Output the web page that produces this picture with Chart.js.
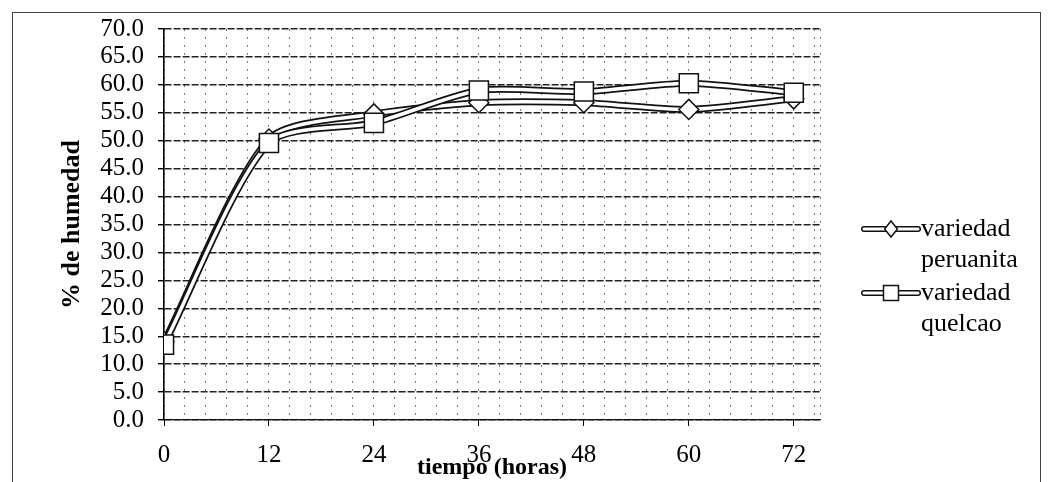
<!DOCTYPE html>
<html>
<head>
<meta charset="utf-8">
<script src="https://cdn.jsdelivr.net/npm/chart.js@4.4.1/dist/chart.umd.min.js"></script>
<style>
  html, body { margin: 0; padding: 0; background: #fff; }
  #wrap { width: 1048px; height: 482px; }
</style>
</head>
<body>
<div id="wrap"><canvas id="c" width="1048" height="482"></canvas></div>
<script>
// Humedad (%) medida cada 12 horas para dos variedades
const horas = [0, 12, 24, 36, 48, 60, 72];
const peruanita = [14.0, 50.3, 54.8, 56.8, 56.8, 55.6, 57.5];
const quelcao = [13.5, 49.6, 53.2, 59.0, 58.8, 60.3, 58.6];
const nombresSeries = [['variedad', 'peruanita'], ['variedad', 'quelcao']];
const marcadores = ['rectRot', 'rect'];
const tituloY = '% de humedad';
const tituloX = 'tiempo (horas)';

const X_MAX = 75;          // extremo derecho del eje de tiempo
const X_PASO_GRILLA = 2.4; // líneas secundarias (12 / 5)
const X_PASO_ETIQUETA = 12;
const SUAVIZADO = 0.25;

const FUENTE = '"Liberation Serif", "Times New Roman", serif';
Chart.defaults.font.family = FUENTE;
Chart.defaults.color = '#000';

const esMayor = v => Math.abs(Math.round(v * 10) % (X_PASO_ETIQUETA * 10)) === 0 && v <= 72;

function puntos(ys) {
  return horas.map((h, i) => ({ x: h, y: ys[i] }));
}

// Cada serie es una línea "hueca": trazo negro grueso debajo y trazo blanco fino encima
function contorno(ys, order) {
  return {
    data: puntos(ys), order,
    borderColor: '#111', borderWidth: 7,
    borderCapStyle: 'round', borderJoinStyle: 'round',
    pointRadius: 0, tension: SUAVIZADO, fill: false
  };
}
function interior(label, ys, order, estilo, radio) {
  return {
    label, data: puntos(ys), order,
    borderColor: '#fff', borderWidth: 3.5,
    borderCapStyle: 'round', borderJoinStyle: 'round',
    pointStyle: estilo, pointRadius: radio,
    pointBackgroundColor: '#fff', pointBorderColor: '#111', pointBorderWidth: 1.5,
    tension: SUAVIZADO, fill: false
  };
}

const marco = {
  id: 'marco',
  beforeDraw(chart) {
    const ctx = chart.ctx;
    ctx.save();
    ctx.fillStyle = '#fff';
    ctx.fillRect(0, 0, chart.width, chart.height);
    ctx.strokeStyle = '#444';
    ctx.lineWidth = 1;
    ctx.strokeRect(12.5, 12.5, 1028, 490);
    ctx.restore();
  }
};

function dibujarMarcador(ctx, estilo, x, y) {
  ctx.beginPath();
  if (estilo === 'rectRot') {
    const r = 8;
    ctx.moveTo(x, y - r); ctx.lineTo(x + r * 0.8, y); ctx.lineTo(x, y + r); ctx.lineTo(x - r * 0.8, y);
    ctx.closePath();
  } else {
    const s = 7.5;
    ctx.rect(x - s, y - s, 2 * s, 2 * s);
  }
  ctx.fillStyle = '#fff';
  ctx.fill();
  ctx.lineWidth = 1.5;
  ctx.strokeStyle = '#111';
  ctx.stroke();
}

const leyenda = {
  id: 'leyenda',
  afterDraw(chart) {
    const ctx = chart.ctx;
    const x0 = 864, x1 = 918, xt = 921;
    const filas = [229, 293];
    const interlinea = 31;
    ctx.save();
    nombresSeries.forEach((lineas, i) => {
      const y = filas[i];
      ctx.lineCap = 'round';
      ctx.beginPath(); ctx.moveTo(x0, y); ctx.lineTo(x1, y);
      ctx.strokeStyle = '#111'; ctx.lineWidth = 6; ctx.stroke();
      ctx.beginPath(); ctx.moveTo(x0, y); ctx.lineTo(x1, y);
      ctx.strokeStyle = '#fff'; ctx.lineWidth = 3; ctx.stroke();
      dibujarMarcador(ctx, marcadores[i], (x0 + x1) / 2, y);
      ctx.fillStyle = '#000';
      ctx.font = '26px ' + FUENTE;
      ctx.textAlign = 'left';
      ctx.textBaseline = 'middle';
      lineas.forEach((t, k) => ctx.fillText(t, xt, y + k * interlinea));
    });
    ctx.restore();
  }
};

new Chart(document.getElementById('c'), {
  type: 'line',
  data: {
    datasets: [
      contorno(peruanita, 4),
      interior(nombresSeries[0].join(' '), peruanita, 3, marcadores[0], 10),
      contorno(quelcao, 2),
      interior(nombresSeries[1].join(' '), quelcao, 1, marcadores[1], 13.5)
    ]
  },
  options: {
    responsive: false,
    animation: false,
    devicePixelRatio: 1,
    events: [],
    layout: { padding: { left: 0, top: 29, right: 228, bottom: 0 } },
    plugins: { legend: { display: false }, tooltip: { enabled: false } },
    scales: {
      x: {
        type: 'linear', min: 0, max: X_MAX,
        afterBuildTicks(scale) {
          const t = [];
          for (let i = 0; i * X_PASO_GRILLA <= X_MAX + 1e-9; i++) t.push({ value: +(i * X_PASO_GRILLA).toFixed(1) });
          if (t[t.length - 1].value !== X_MAX) t.push({ value: X_MAX });
          scale.ticks = t;
        },
        afterFit(scale) { scale.height = 62; },
        ticks: {
          autoSkip: false, maxRotation: 0, padding: 14,
          font: { size: 25 },
          callback: v => esMayor(v) ? String(Math.round(v)) : ''
        },
        grid: {
          color: '#777', lineWidth: 1,
          tickLength: 6,
          tickColor: c => (c.tick && esMayor(c.tick.value)) ? '#000' : 'rgba(0,0,0,0)'
        },
        border: { display: true, color: '#111', width: 1.2, dash: [2, 6] },
        title: {
          display: true, text: tituloX,
          font: { size: 24, weight: 'bold' },
          padding: { top: 0, bottom: 0 }
        }
      },
      y: {
        min: 0, max: 70,
        afterFit(scale) { scale.width = 164; },
        ticks: {
          stepSize: 5, padding: 14, autoSkip: false,
          font: { size: 25 },
          callback: v => Number(v).toFixed(1)
        },
        grid: { color: '#222', lineWidth: 1.4, tickLength: 6, tickColor: '#000' },
        border: { display: true, color: '#000', width: 1.6, dash: [7, 2] },
        title: {
          display: true, text: tituloY,
          font: { size: 26, weight: 'bold' },
          padding: { top: 56.4, bottom: 0 }
        }
      }
    }
  },
  plugins: [marco, leyenda]
});
</script>
</body>
</html>
